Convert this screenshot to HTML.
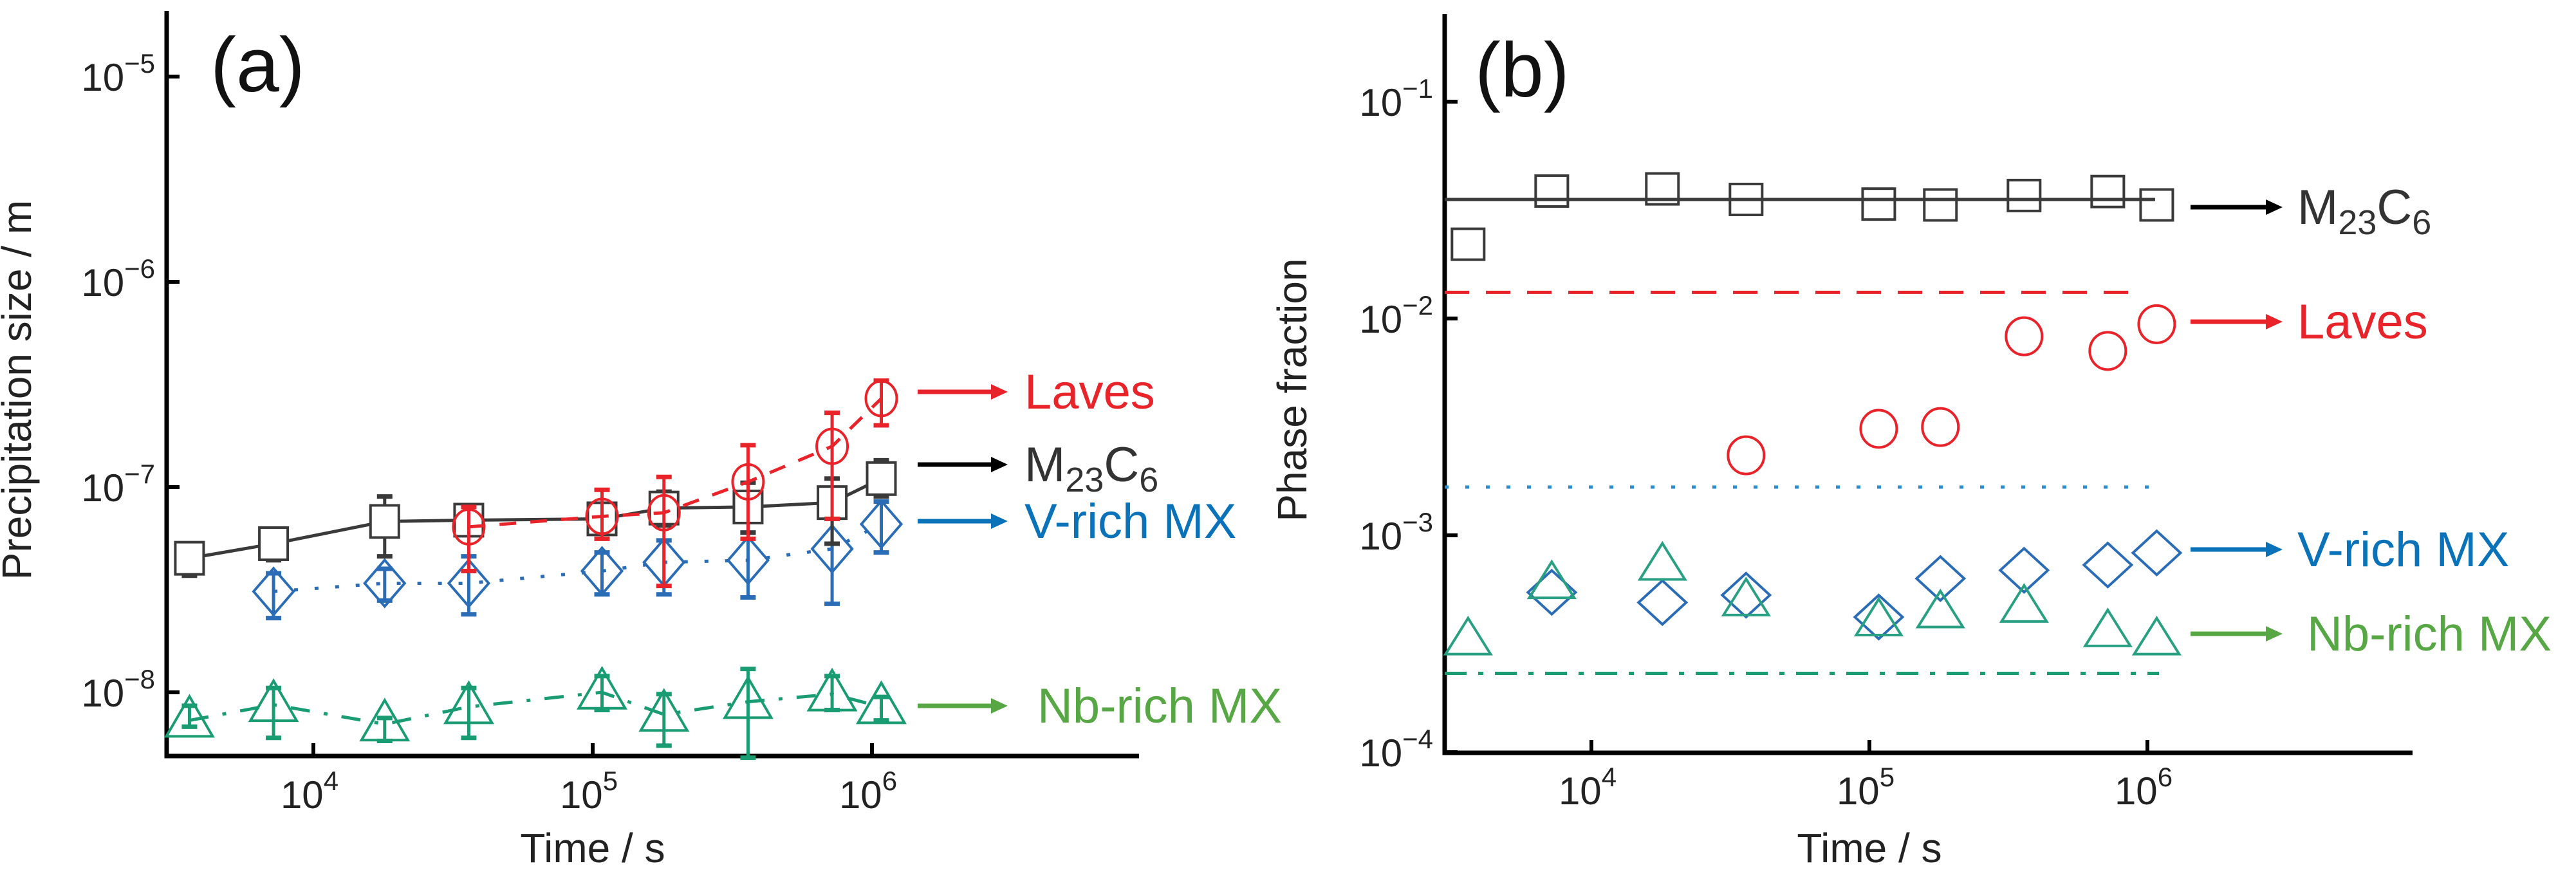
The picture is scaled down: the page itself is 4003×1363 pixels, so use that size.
<!DOCTYPE html>
<html><head><meta charset="utf-8"><style>
html,body{margin:0;padding:0;background:#fff;}
svg{display:block;font-family:"Liberation Sans",Arial,sans-serif;}
</style></head><body>
<svg id="chart" width="4003" height="1363" viewBox="0 0 4003 1363" xmlns="http://www.w3.org/2000/svg">
<g id="pa"></g>
<g id="pb"></g>
</svg>
<script>
// shared time categories (s)
const times = [3600, 7200, 18000, 36000, 108000, 180000, 360000, 720000, 1080000];
// panel (a) precipitate size (m)
const aM23 = [4.5e-8, 5.3e-8, 6.8e-8, 6.9e-8, 7.0e-8, 7.9e-8, 8.0e-8, 8.4e-8, 1.1e-7];
const aM23Hi = [5.3e-8, 6.0e-8, 9.0e-8, 8.0e-8, 7.6e-8, 9.5e-8, 1.05e-7, 1.1e-7, 1.35e-7];
const aM23Lo = [3.7e-8, 4.4e-8, 4.6e-8, 6.0e-8, 6.4e-8, 6.5e-8, 6.0e-8, 5.3e-8, 9.0e-8];
const aLaves = [null, null, null, 6.4e-8, 7.2e-8, 7.5e-8, 1.06e-7, 1.58e-7, 2.7e-7];
const aLavesHi = [null, null, null, 8.0e-8, 9.7e-8, 1.12e-7, 1.6e-7, 2.3e-7, 3.3e-7];
const aLavesLo = [null, null, null, 3.9e-8, 5.6e-8, 3.3e-8, 5.6e-8, 7.0e-8, 2.0e-7];
const aV = [null, 3.1e-8, 3.4e-8, 3.4e-8, 3.9e-8, 4.3e-8, 4.4e-8, 5.0e-8, 6.6e-8];
const aVHi = [null, 3.8e-8, 4.0e-8, 4.6e-8, 4.8e-8, 5.5e-8, 6.0e-8, 7.0e-8, 8.5e-8];
const aVLo = [null, 2.3e-8, 2.8e-8, 2.4e-8, 3.0e-8, 3.0e-8, 2.9e-8, 2.7e-8, 4.8e-8];
const aNb = [7.3e-9, 8.7e-9, 7.0e-9, 8.5e-9, 1.0e-8, 7.8e-9, 9.0e-9, 9.8e-9, 8.5e-9];
const aNbHi = [8.6e-9, 1.05e-8, 7.5e-9, 1.05e-8, 1.2e-8, 9.8e-9, 1.3e-8, 1.2e-8, 9.5e-9];
const aNbLo = [6.8e-9, 6.0e-9, 5.8e-9, 6.0e-9, 8.2e-9, 5.5e-9, 4.8e-9, 8.2e-9, 7.3e-9];
const aYTicks = [-5, -6, -7, -8];
const xTicks = [4, 5, 6];
// panel (b) phase fraction
const bM23 = [0.022, 0.0387, 0.0396, 0.0354, 0.0337, 0.0334, 0.0369, 0.0385, 0.0334];
const bLaves = [null, null, null, 0.00234, 0.0031, 0.00316, 0.00828, 0.00709, 0.00941];
const bV = [null, 0.000546, 0.00049, 0.00053, 0.00042, 0.000632, 0.00069, 0.00073, 0.00083];
const bNb = [0.00033, 0.0006, 0.00073, 0.0005, 0.000404, 0.00044, 0.000467, 0.00036, 0.00033];
const bEqM23 = 0.0354, bEqLaves = 0.0132, bEqV = 0.00167, bEqNb = 0.000231;
const bYTicks = [-1, -2, -3, -4];

const NS = "http://www.w3.org/2000/svg";
function mk(parent, tag, attrs) {
  const e = document.createElementNS(NS, tag);
  for (const k in attrs) e.setAttribute(k, attrs[k]);
  parent.appendChild(e); return e;
}
const RED = "#e8232a", BLK = "#3a3a3a", BLU = "#2a6cb5", GRN = "#1a9c72";
const LRED = "#e8232a", LBLU = "#0a72b8", LGRN = "#57a845";

function axisFns(x0, x10k, dec, y0log, y0, ydec) {
  return {
    X: t => x10k + (Math.log10(t) - 4) * dec,
    Y: v => y0 + (y0log - Math.log10(v)) * ydec
  };
}

function marker(g, type, cx, cy, color, s, fill) {
  let e;
  if (type === "sq") e = mk(g, "rect", {x: cx - s.w/2, y: cy - s.h/2, width: s.w, height: s.h});
  else if (type === "ci") e = mk(g, "ellipse", {cx: cx, cy: cy, rx: s.w/2, ry: s.h/2});
  else if (type === "di") e = mk(g, "polygon", {points: `${cx},${cy-s.h/2} ${cx+s.w/2},${cy} ${cx},${cy+s.h/2} ${cx-s.w/2},${cy}`});
  else e = mk(g, "polygon", {points: `${cx},${cy-s.h*0.6} ${cx+s.w/2},${cy+s.h*0.4} ${cx-s.w/2},${cy+s.h*0.4}`});
  e.setAttribute("fill", fill || "none"); e.setAttribute("stroke", color); e.setAttribute("stroke-width", 4);
  
  
}

function drawAxes(g, A, xl, xr, yt, yb, ytick, xLabelY, yTitle, yTitleX) {
  const ax = mk(g, "path", {d: `M${xl},${yt} L${xl},${yb} L${xr},${yb}`, fill: "none", stroke: "#000", "stroke-width": 7});
   
  ytick.forEach(p => {
    const y = A.Y(Math.pow(10, p));
    mk(g, "line", {x1: xl, x2: xl + 20, y1: y, y2: y, stroke: "#000", "stroke-width": 6});
    const t = mk(g, "text", {x: xl - 18, y: y + 22, "text-anchor": "end", "font-size": 60, fill: "#222"});
     
    t.innerHTML = `10<tspan dy="-28" font-size="42">−${-p}</tspan>`;
  });
  xTicks.forEach(p => {
    const x = A.X(Math.pow(10, p));
    mk(g, "line", {x1: x, x2: x, y1: yb, y2: yb - 20, stroke: "#000", "stroke-width": 6});
    const t = mk(g, "text", {x: x - 6, y: xLabelY, "text-anchor": "middle", "font-size": 60, fill: "#222"});
     
    t.innerHTML = `10<tspan dy="-28" font-size="42">${p}</tspan>`;
  });
  const xt = mk(g, "text", {x: (A.X(1e4) + A.X(1e6)) / 2, y: 1340, "text-anchor": "middle", "font-size": 64, fill: "#222"});
   
  xt.textContent = "Time / s";
  const yc = (yt + yb) / 2 + 10;
  const yy = mk(g, "text", {x: yTitleX, y: yc, "text-anchor": "middle", "font-size": 64, fill: "#222", transform: `rotate(-90 ${yTitleX} ${yc})`});
   
  yy.textContent = yTitle;
}

function series(g, A, vals, hi, lo, color, dash, type, size, fill, name) {
  const sg = mk(g, "g", {});  
  const pts = [];
  vals.forEach((v, i) => { if (v != null) pts.push([A.X(times[i]), A.Y(v)]); });
  if (dash !== null) {
    const l = mk(sg, "polyline", {points: pts.map(p => p.join(",")).join(" "), fill: "none", stroke: color, "stroke-width": 5, "stroke-dasharray": dash});
     
  }
  if (hi) vals.forEach((v, i) => {
    if (v == null) return;
    const x = A.X(times[i]), y1 = A.Y(hi[i]), y2 = A.Y(lo[i]);
    mk(sg, "line", {x1: x, x2: x, y1: y1, y2: y2, stroke: color, "stroke-width": 5});
    mk(sg, "line", {x1: x - 12, x2: x + 12, y1: y1, y2: y1, stroke: color, "stroke-width": 7});
    mk(sg, "line", {x1: x - 12, x2: x + 12, y1: y2, y2: y2, stroke: color, "stroke-width": 7});
  });
  pts.forEach(p => marker(sg, type, p[0], p[1], color, size, fill));
}

function legend(g, x1, x2, tx, y, color, tcolor, label, name) {
  const lg = mk(g, "g", {});  
  mk(lg, "line", {x1: x1, x2: x2 - 20, y1: y, y2: y, stroke: color, "stroke-width": 7});
  mk(lg, "polygon", {points: `${x2},${y} ${x2-26},${y-12} ${x2-26},${y+12}`, fill: color});
  const t = mk(lg, "text", {x: tx, y: y + 26, "font-size": 76, fill: tcolor});
  t.innerHTML = label;
}

function hline(g, A, v, xa, xb, color, dash, name) {
  const y = A.Y(v);
  const l = mk(g, "line", {x1: xa, x2: xb, y1: y, y2: y, stroke: color, "stroke-width": 5, "stroke-dasharray": dash});
   
}

// ---- panel a ----
const ga = document.getElementById("pa");
const A = axisFns(259, 487, 434, -5, 119, 319);
drawAxes(ga, A, 259, 1770, 17, 1175, aYTicks, 1256, "Precipitation size / m", 48);
const la = mk(ga, "text", {x: 327, y: 142, "font-size": 120, fill: "#111"}); la.textContent = "(a)";
 
series(ga, A, aNb, aNbHi, aNbLo, GRN, "30 22 6 22", "tr", {w: 72, h: 62}, "none", "series-nb-rich-mx");
series(ga, A, aV, aVHi, aVLo, BLU, "6 26", "di", {w: 62, h: 72}, "none", "series-v-rich-mx");
series(ga, A, aM23, aM23Hi, aM23Lo, BLK, "", "sq", {w: 44, h: 50}, "#fff", "series-m23c6");
series(ga, A, aLaves, aLavesHi, aLavesLo, RED, "26 22", "ci", {w: 48, h: 54}, "none", "series-laves");
legend(ga, 1426, 1566, 1592, 609, LRED, LRED, "Laves", "legend-laves");
legend(ga, 1426, 1566, 1592, 722, "#000", "#333", 'M<tspan dy="16" font-size="54">23</tspan><tspan dy="-16">C</tspan><tspan dy="16" font-size="54">6</tspan>', "legend-m23c6");
legend(ga, 1426, 1566, 1592, 810, LBLU, LBLU, "V-rich MX", "legend-v-rich-mx");
legend(ga, 1426, 1566, 1612, 1097, LGRN, LGRN, "Nb-rich MX", "legend-nb-rich-mx");

// ---- panel b ----
const gb = document.getElementById("pb");
const B = axisFns(2245, 2473, 432, -1, 158, 337);
drawAxes(gb, B, 2245, 3749, 22, 1170, bYTicks, 1250, "Phase fraction", 2030);
const lb = mk(gb, "text", {x: 2292, y: 150, "font-size": 120, fill: "#111"}); lb.textContent = "(b)";
 
hline(gb, B, bEqM23, 2245, 3349, BLK, "", "eq-line-m23c6");
hline(gb, B, bEqLaves, 2245, 3323, RED, "38 26", "eq-line-laves");
hline(gb, B, bEqV, 2245, 3343, "#2a8fd0", "6 26", "eq-line-v-rich-mx");
hline(gb, B, bEqNb, 2245, 3355, GRN, "34 18 8 18", "eq-line-nb-rich-mx");
series(gb, B, bM23, null, null, BLK, null, "sq", {w: 50, h: 48}, "none", "series-b-m23c6");
series(gb, B, bLaves, null, null, RED, null, "ci", {w: 56, h: 58}, "none", "series-b-laves");
series(gb, B, bV, null, null, BLU, null, "di", {w: 74, h: 68}, "none", "series-b-v-rich-mx");
series(gb, B, bNb, null, null, "#2aa083", null, "tr", {w: 70, h: 56}, "none", "series-b-nb-rich-mx");
legend(gb, 3404, 3547, 3570, 322, "#000", "#333", 'M<tspan dy="16" font-size="54">23</tspan><tspan dy="-16">C</tspan><tspan dy="16" font-size="54">6</tspan>', "legend-b-m23c6");
legend(gb, 3404, 3547, 3570, 500, LRED, LRED, "Laves", "legend-b-laves");
legend(gb, 3404, 3547, 3570, 854, LBLU, LBLU, "V-rich MX", "legend-b-v-rich-mx");
legend(gb, 3404, 3547, 3585, 985, LGRN, LGRN, "Nb-rich MX", "legend-b-nb-rich-mx");
</script>
</body></html>
